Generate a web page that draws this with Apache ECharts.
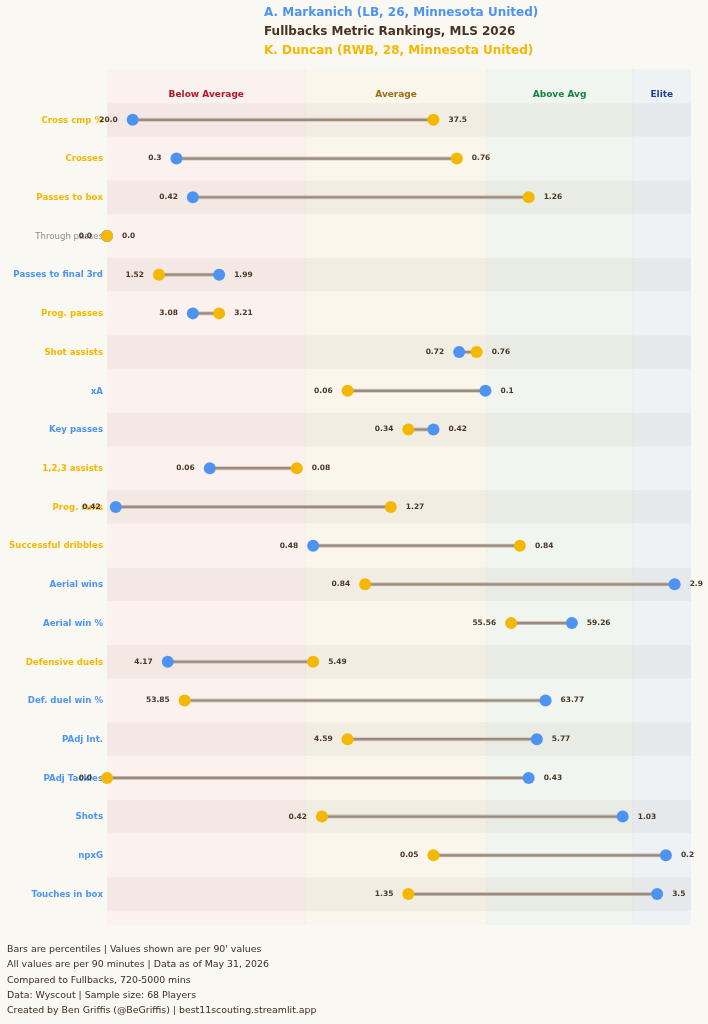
<!DOCTYPE html>
<html>
<head>
<meta charset="utf-8">
<script src="https://cdn.jsdelivr.net/npm/echarts@6/dist/echarts.min.js"></script>
<style>
html, body { margin: 0; padding: 0; background: #f9f8f3; }
#chart { width: 708px; height: 1024px; }
</style>
</head>
<body>
<div id="chart"></div>
<script>
// metrics, top to bottom
const metrics = ['Cross cmp %', 'Crosses', 'Passes to box', 'Through passes', 'Passes to final 3rd',
	'Prog. passes', 'Shot assists', 'xA', 'Key passes', '1,2,3 assists', 'Prog. runs',
	'Successful dribbles', 'Aerial wins', 'Aerial win %', 'Defensive duels', 'Def. duel win %',
	'PAdj Int.', 'PAdj Tackles', 'Shots', 'npxG', 'Touches in box'];

// A. Markanich (blue): percentile + per 90 value
const bluePct = [4.4, 11.9, 14.7, 0, 19.2, 14.7, 60.3, 64.8, 55.9, 17.6, 1.5,
	35.3, 97.2, 79.6, 10.4, 75.1, 73.6, 72.2, 88.3, 95.7, 94.2];
const blueVal = ['20.0', '0.3', '0.42', '0.0', '1.99', '3.08', '0.72', '0.1', '0.42', '0.06', '0.42',
	'0.48', '2.9', '59.26', '4.17', '63.77', '5.77', '0.43', '1.03', '0.2', '3.5'];

// K. Duncan (yellow)
const yellowPct = [55.9, 59.9, 72.2, 0, 8.9, 19.2, 63.3, 41.2, 51.6, 32.5, 48.6,
	70.7, 44.2, 69.2, 35.3, 13.3, 41.2, 0, 36.8, 55.9, 51.6];
const yellowVal = ['37.5', '0.76', '1.26', '0.0', '1.52', '3.21', '0.76', '0.06', '0.34', '0.08', '1.27',
	'0.84', '0.84', '55.56', '5.49', '53.85', '4.59', '0.0', '0.42', '0.05', '1.35'];

// percentile zones
const zoneEdges = [0, 34, 65, 90, 100];
const zoneNames = ['Below Average', 'Average', 'Above Avg', 'Elite'];

const blueName = 'A. Markanich (LB, 26, Minnesota United)';
const yellowName = 'K. Duncan (RWB, 28, Minnesota United)';
const mainTitle = 'Fullbacks Metric Rankings, MLS 2026';
const notes = ['Bars are percentiles | Values shown are per 90\' values',
	'All values are per 90 minutes | Data as of May 31, 2026',
	'Compared to Fullbacks, 720-5000 mins',
	'Data: Wyscout | Sample size: 68 Players',
	'Created by Ben Griffis (@BeGriffis) | best11scouting.streamlit.app'];

const BLUE = '#4d94f2';
const YELLOW = '#f5b800';
const FONT = 'DejaVu Sans';
const zoneFill = ['#fbf1ee', '#faf6eb', '#f0f5ef', '#eef2f5'];
const zoneText = ['#b3172b', '#9c6b14', '#16853e', '#1c3f94'];

const Y_MIN = -1.3, Y_MAX = 20.8;

const dom = document.getElementById('chart');
const myChart = echarts.init(dom);

const rows = metrics.map(function (m, i) { return i; });

// label on the outer side of each dot
function dotData(pct, vals, other, isBlue) {
	return pct.map(function (p, i) {
		let left = p < other[i] || (p === other[i] && isBlue);
		return {
			value: [p, i],
			label: { position: left ? 'left' : 'right', formatter: vals[i] }
		};
	});
}

const dotLabel = {
	show: true,
	distance: 9,
	color: '#4a3526',
	fontFamily: FONT,
	fontWeight: 'bold',
	fontSize: 7.5
};

var option = {
	backgroundColor: '#f9f8f3',
	animation: false,
	grid: { left: 107, right: 17, top: 69.5, bottom: 99 },
	xAxis: { type: 'value', min: 0, max: 100, show: false },
	yAxis: { type: 'value', min: Y_MIN, max: Y_MAX, inverse: true, show: false },
	graphic: [
		{ type: 'text', left: 404 - 140, top: 7, style: { text: blueName, fill: BLUE, font: 'bold 12px ' + FONT, width: 280, align: 'center' } },
		{ type: 'text', left: 404 - 140, top: 26, style: { text: mainTitle, fill: '#4a3220', font: 'bold 12px ' + FONT, width: 280, align: 'center' } },
		{ type: 'text', left: 404 - 140, top: 45, style: { text: yellowName, fill: YELLOW, font: 'bold 12px ' + FONT, width: 280, align: 'center' } },
		{ type: 'text', left: 7, top: 942, style: { text: notes.join('\n'), fill: '#3d2b1f', font: '9.4px ' + FONT, lineHeight: 15.3 } }
	],
	series: [{
		// zone backgrounds + headers
		type: 'custom',
		clip: false,
		silent: true,
		data: zoneNames.map(function (n, k) { return [zoneEdges[k], zoneEdges[k + 1], k]; }),
		renderItem: function (params, api) {
			const k = api.value(2);
			const p0 = api.coord([api.value(0), Y_MIN]);
			const p1 = api.coord([api.value(1), Y_MAX]);
			const mid = api.coord([(api.value(0) + api.value(1)) / 2, -0.64]);
			const kids = [{
				type: 'rect',
				shape: { x: p0[0], y: p0[1], width: p1[0] - p0[0], height: p1[1] - p0[1] },
				style: { fill: zoneFill[k] }
			}, {
				type: 'text',
				style: {
					x: mid[0], y: mid[1], text: zoneNames[k], fill: zoneText[k],
					font: 'bold 9px ' + FONT, align: 'center', verticalAlign: 'middle'
				}
			}];
			if (k > 0) {
				kids.push({
					type: 'line',
					shape: { x1: p0[0], y1: p0[1], x2: p0[0], y2: p1[1] },
					style: { stroke: 'rgba(215,200,180,0.3)', lineWidth: 1, lineDash: [2, 2] }
				});
			}
			return { type: 'group', children: kids };
		}
	}, {
		// alternating row bands + metric names
		type: 'custom',
		clip: false,
		silent: true,
		data: rows.map(function (i) { return [i, bluePct[i], yellowPct[i]]; }),
		renderItem: function (params, api) {
			const i = api.value(0);
			const b = api.value(1), y = api.value(2);
			const a0 = api.coord([0, i - 0.43]);
			const a1 = api.coord([100, i + 0.43]);
			const lab = api.coord([0, i]);
			let col = b > y ? BLUE : (y > b ? YELLOW : '#8c8c8c');
			const kids = [{
				type: 'text',
				style: {
					x: lab[0] - 4, y: lab[1] + 0.5, text: metrics[i], fill: col,
					font: (b === y ? 'normal 8.6px ' : 'bold 8.6px ') + FONT,
					align: 'right', verticalAlign: 'middle'
				}
			}];
			if (i % 2 === 0) {
				kids.unshift({
					type: 'rect',
					shape: { x: a0[0], y: a0[1], width: a1[0] - a0[0], height: a1[1] - a0[1] },
					style: { fill: 'rgba(110,85,70,0.055)' }
				});
			}
			return { type: 'group', children: kids };
		}
	}, {
		// connecting lines
		type: 'custom',
		silent: true,
		data: rows.map(function (i) { return [i, bluePct[i], yellowPct[i]]; }),
		renderItem: function (params, api) {
			const i = api.value(0);
			const a = api.coord([api.value(1), i]);
			const b = api.coord([api.value(2), i]);
			return {
				type: 'group',
				children: [{
					type: 'line',
					shape: { x1: a[0], y1: a[1], x2: b[0], y2: b[1] },
					style: { stroke: '#cfc5bb', lineWidth: 4 }
				}, {
					type: 'line',
					shape: { x1: a[0], y1: a[1], x2: b[0], y2: b[1] },
					style: { stroke: '#9b8b7e', lineWidth: 2.2 }
				}]
			};
		}
	}, {
		name: blueName,
		type: 'scatter',
		symbolSize: 12,
		clip: false,
		itemStyle: { color: BLUE, opacity: 1 },
		label: dotLabel,
		data: dotData(bluePct, blueVal, yellowPct, true)
	}, {
		name: yellowName,
		type: 'scatter',
		symbolSize: 12,
		clip: false,
		itemStyle: { color: YELLOW, opacity: 1 },
		label: dotLabel,
		data: dotData(yellowPct, yellowVal, bluePct, false)
	}]
};
myChart.setOption(option);
</script>
</body>
</html>
